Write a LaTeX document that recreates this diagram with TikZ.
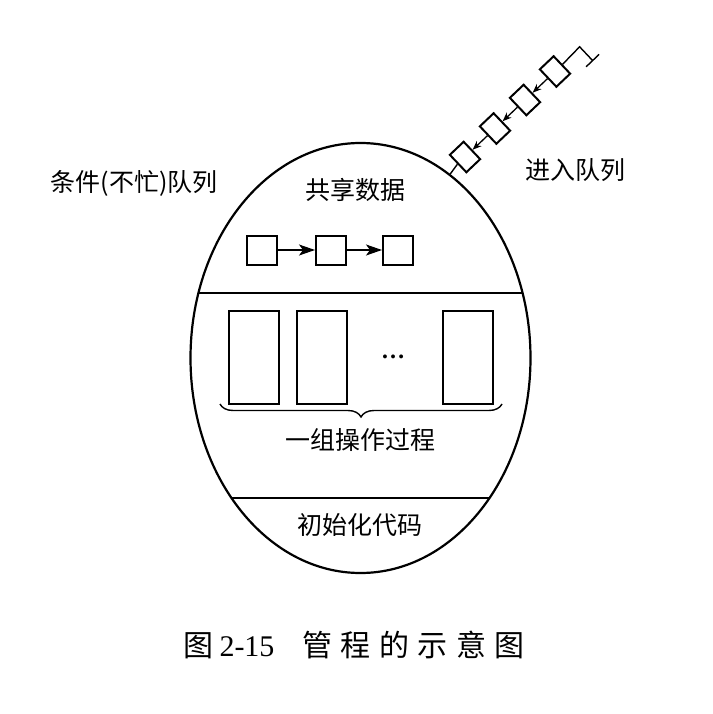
\documentclass[tikz,border=0pt]{standalone}
\usepackage{fontspec}
\setmainfont{Liberation Serif}
\newfontfamily\cjk{Noto Sans CJK SC}
\usetikzlibrary{shapes.geometric,arrows.meta,decorations.pathreplacing}
\begin{document}
\begin{tikzpicture}[x=1pt,y=-1pt,
  lbl/.style={font=\fontsize{25}{28}\selectfont\cjk, inner sep=0},
  sbox/.style={draw, line width=2pt, minimum width=30pt, minimum height=29pt, inner sep=0},
  pbox/.style={draw, line width=2pt, minimum width=50pt, minimum height=93pt, inner sep=0},
  qbox/.style={draw, line width=2pt, minimum width=19pt, minimum height=24pt, inner sep=0, rotate=43.5},
  arr/.style={-{Stealth[length=16pt,width=11pt,inset=4pt]}, line width=1.3pt},
  qarr/.style={-{Stealth[length=9pt,width=7pt]}, line width=1.3pt},
  thinl/.style={line width=1.4pt}]
\useasboundingbox (0,0) rectangle (712,714);
\node[ellipse, draw, line width=2.2pt, minimum width=340pt, minimum height=430pt, inner sep=0] (M) at (360.5,358) {};
\begin{scope}
  \clip (360.5,358) ellipse [x radius=170, y radius=215];
  \draw[thinl] (100,293) -- (620,293);
  \draw[thinl] (100,498) -- (620,498);
\end{scope}
% shared data
\node[sbox] (s1) at (262,250) {};
\node[sbox] (s2) at (331,250) {};
\node[sbox] (s3) at (398,250) {};
\draw[arr] (s1) -- (s2);
\draw[arr] (s2) -- (s3);
% procedures
\node[pbox] (p1) at (254,357.5) {};
\node[pbox] (p2) at (322,357.5) {};
\node[pbox] (p3) at (467.5,357.5) {};
\node[font=\fontsize{24}{26}\selectfont\bfseries, inner sep=0] (dots) at (393,357) {…};
\coordinate (bl) at (220,404);
\coordinate (br) at (502,404);
\draw[thinl, decorate, decoration={brace, mirror, amplitude=13pt}] (bl) -- (br);
% labels
\node[lbl] (shared) at (355,190) {共享数据};
\node[lbl] (ops) at (360,440) {一组操作过程};
\node[lbl] (init) at (360,525) {初始化代码};
\node[lbl] (cond) at (134,183) {条件(不忙)队列};
\node[lbl] (entry) at (575,170) {进入队列};
% entry queue
\node[qbox] (q1) at (465,157) {};
\node[qbox] (q2) at (495,128.5) {};
\node[qbox] (q3) at (525,100) {};
\node[qbox] (q4) at (555,71.5) {};
\draw[qarr] (q4) -- (q3);
\draw[qarr] (q3) -- (q2);
\draw[qarr] (q2) -- (q1);
\draw[thinl] (q1.west) -- (M.64.7);
\draw[thinl] (q4.east) -- ++(17,-17.5) -- ++(13,13.8) coordinate (t2);
\draw[thinl] (t2) ++(-6.5,6.2) -- ++(13,-12.4);
% caption
\node[font=\fontsize{30}{34}\selectfont, inner sep=0] (cap) at (354,645) {{\cjk 图}\hspace{6pt}2-15\hspace{28pt}{\cjk\addfontfeature{LetterSpace=28}管程的示意图}};
\end{tikzpicture}
\end{document}
